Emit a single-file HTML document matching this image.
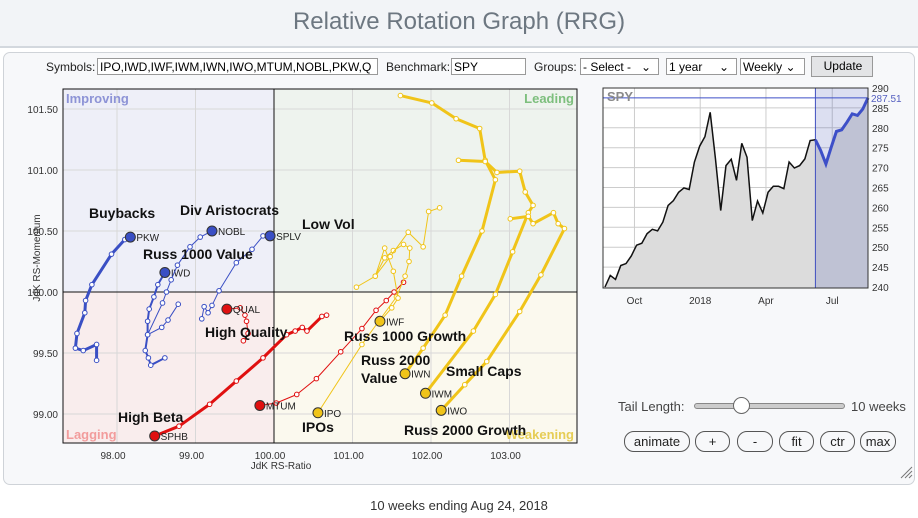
<!DOCTYPE html>
<html><head><meta charset="utf-8">
<style>
body{margin:0;width:918px;height:518px;overflow:hidden;background:#fff;font-family:"Liberation Sans",sans-serif;position:relative}
.hdr{position:absolute;left:0;top:0;width:918px;height:46px;background:#f2f4f7;border-bottom:2px solid #d3d8de}
.title{position:absolute;left:0;width:918px;top:8px;text-align:center;font-size:24px;color:#6d7781}
.panel{position:absolute;left:3px;top:52px;width:910px;height:431px;border:1px solid #cfd3d8;border-radius:7px;background:#f7f8fa}
.ctl{position:absolute;font-size:12px;color:#222}
.inp{position:absolute;height:17px;border:1px solid #999;background:#fff;font-size:12px;line-height:17px;padding-left:2px;box-sizing:border-box;white-space:nowrap;overflow:hidden}
.btn{position:absolute;border:1px solid #555;border-radius:10px;height:21px;box-sizing:border-box;text-align:center;font-size:13px;line-height:19px;color:#222;background:#f7f8fa}
svg{position:absolute;left:0;top:0}
.foot{position:absolute;left:0;width:918px;top:498px;text-align:center;font-size:13px;color:#333}
</style></head><body>
<div class="hdr"></div>
<div class="title">Relative Rotation Graph (RRG)</div>
<div class="panel"></div>
<div class="ctl" style="left:46px;top:60px">Symbols:</div>
<div class="inp" style="left:97px;top:58px;width:281px">IPO,IWD,IWF,IWM,IWN,IWO,MTUM,NOBL,PKW,Q</div>
<div class="ctl" style="left:386px;top:60px">Benchmark:</div>
<div class="inp" style="left:451px;top:58px;width:75px">SPY</div>
<div class="ctl" style="left:534px;top:60px">Groups:</div>
<div class="inp" style="left:580px;top:58px;width:79px">- Select -&nbsp;&nbsp;&nbsp;⌄</div>
<div class="inp" style="left:666px;top:58px;width:71px">1 year&nbsp;&nbsp;&nbsp;&nbsp;&nbsp;⌄</div>
<div class="inp" style="left:740px;top:58px;width:65px">Weekly ⌄</div>
<div class="inp" style="left:811px;top:56px;width:62px;height:21px;background:#e3e4e6;text-align:center;line-height:19px">Update</div>

<svg id="chart" width="918" height="518"></svg>

<div class="ctl" style="left:618px;top:399px;font-size:13px;color:#444">Tail Length:</div>
<div style="position:absolute;left:694px;top:403px;width:149px;height:4px;border:1px solid #888;border-radius:3px;background:#ccc"></div>
<div style="position:absolute;left:733px;top:397px;width:15px;height:15px;border:1px solid #666;border-radius:50%;background:#fff"></div>
<div class="ctl" style="left:851px;top:399px;font-size:13px;color:#444">10 weeks</div>
<div class="btn" style="left:624px;top:431px;width:66px">animate</div>
<div class="btn" style="left:695px;top:431px;width:35px">+</div>
<div class="btn" style="left:737px;top:431px;width:36px">-</div>
<div class="btn" style="left:779px;top:431px;width:35px">fit</div>
<div class="btn" style="left:820px;top:431px;width:35px">ctr</div>
<div class="btn" style="left:860px;top:431px;width:36px">max</div>
<div class="foot">10 weeks ending Aug 24, 2018</div>

<script>
// ---- RRG data ----
const xTicks=[98,99,100,101,102,103];
const yTicks=[99.0,99.5,100.0,100.5,101.0,101.5];
const symbols=["PKW","IWD","NOBL","SPLV","QUAL","SPHB","MTUM","IPO","IWF","IWN","IWM","IWO"];
const ratioPKW=[97.74,97.74,97.57,97.47,97.49,97.59,97.60,97.68,97.93,98.10,98.17];
const momPKW=[99.44,99.57,99.52,99.54,99.66,99.83,99.93,100.06,100.31,100.43,100.45];
const ratioIWD=[98.61,98.43,98.40,98.36,98.39,98.39,98.41,98.47,98.52,98.61];
const momIWD=[99.46,99.40,99.46,99.52,99.65,99.76,99.86,99.96,100.06,100.16];
const ratioNOBL=[98.78,98.65,98.57,98.39,98.58,98.63,98.69,98.77,98.93,99.06,99.21];
const momNOBL=[99.90,99.77,99.71,99.65,99.91,100.00,100.10,100.22,100.37,100.45,100.50];
const ratioSPLV=[99.08,99.11,99.16,99.21,99.30,99.52,99.72,99.86,99.95];
const momSPLV=[99.78,99.88,99.83,99.89,100.01,100.24,100.35,100.46,100.46];
const ratioQUAL=[99.61,99.67,99.65,99.63,99.57,99.40];
const momQUAL=[99.60,99.66,99.76,99.81,99.87,99.86];
const ratioSPHB=[100.67,100.61,100.42,100.36,100.27,100.16,99.86,99.52,99.18,98.79,98.48];
const momSPHB=[99.81,99.80,99.68,99.71,99.68,99.65,99.46,99.27,99.08,98.90,98.82];
const ratioMTUM=[101.65,101.53,101.43,101.30,101.12,100.85,100.54,100.29,100.03,99.82];
const momMTUM=[100.08,100.00,99.93,99.85,99.70,99.51,99.29,99.16,99.09,99.07];
const ratioIPO=[101.05,101.29,101.41,101.52,101.65,101.73,101.72,101.67,101.56,101.12,100.56];
const momIPO=[100.04,100.13,100.28,100.34,100.39,100.36,100.25,100.13,99.96,99.57,99.01];
const ratioIWF=[102.11,101.97,101.90,101.71,101.48,101.29,101.41,101.52,101.58,101.50,101.35];
const momIWF=[100.69,100.66,100.37,100.49,100.29,100.13,100.36,100.17,99.95,99.87,99.76];
const ratioIWN=[101.61,102.01,102.32,102.62,102.69,102.82,102.65,102.39,102.18,101.90,101.67];
const momIWN=[101.61,101.55,101.42,101.34,101.08,100.92,100.50,100.13,99.81,99.54,99.33];
const ratioIWM=[102.35,102.69,102.84,103.13,103.20,103.30,103.24,103.04,102.82,102.54,101.93];
const momIWM=[101.08,101.07,100.98,100.99,100.82,100.71,100.65,100.33,99.98,99.68,99.17];
const ratioIWO=[103.01,103.24,103.30,103.56,103.62,103.70,103.40,103.13,102.71,102.43,102.13];
const momIWO=[100.60,100.62,100.56,100.65,100.56,100.52,100.14,99.84,99.43,99.24,99.03];
// ---- SPY data ----
const spyPrices=[240.0,242.9,241.9,245.4,245.9,247.8,250.5,251.0,253.4,254.5,254.1,256.3,260.5,261.7,263.8,264.9,264.5,271.4,275.4,277.8,283.9,272.2,259.2,270.5,272.1,266.8,276.1,272.6,256.7,261.6,258.6,263.8,265.3,265.3,264.7,271.4,269.9,270.5,272.2,276.8,277.0,274.3,270.9,275.1,279.1,279.5,281.4,283.5,283.1,284.7,287.51];
const spyTicks=[240,245,250,255,260,265,270,275,280,285,290];
const spyDateLabels=["Oct","2018","Apr","Jul"];
const spyDateIdx=[5.6,18.1,30.6,43.2];

const NS="http://www.w3.org/2000/svg";
const svg=document.getElementById('chart');
function el(tag,attrs,parent){const e=document.createElementNS(NS,tag);for(const k in attrs)e.setAttribute(k,attrs[k]);(parent||svg).appendChild(e);return e;}
function txt(x,y,s,attrs){const t=el('text',Object.assign({x:x,y:y,'font-family':'Liberation Sans, sans-serif'},attrs||{}));t.textContent=s;return t;}

// main plot
const L=63,R=577,T=89,B=443;
const X=v=>274+(v-100)*78.5;
const Y=v=>292-(v-100)*122;
const q=[[L,T,X(100)-L,Y(100)-T,'#eeeff8','quadrant-improving'],[X(100),T,R-X(100),Y(100)-T,'#eef3ee','quadrant-leading'],[L,Y(100),X(100)-L,B-Y(100),'#f9eded','quadrant-lagging'],[X(100),Y(100),R-X(100),B-Y(100),'#fbf9ee','quadrant-weakening']];
q.forEach(a=>{const r=el('rect',{x:a[0],y:a[1],width:a[2],height:a[3],fill:a[4]});

});
xTicks.forEach(v=>{const l=el('line',{x1:X(v),x2:X(v),y1:T,y2:B,stroke:'#d8d8d8','stroke-width':1});


const t=txt(X(v)-4,459,v.toFixed(2),{'font-size':10,'text-anchor':'middle',fill:'#333'});

});
yTicks.forEach(v=>{const l=el('line',{x1:L,x2:R,y1:Y(v),y2:Y(v),stroke:'#d8d8d8','stroke-width':1});


const t=txt(58,Y(v)+4,v.toFixed(2),{'font-size':10,'text-anchor':'end',fill:'#333'});

});
el('line',{x1:X(100),x2:X(100),y1:T,y2:B,stroke:'#111','stroke-width':1});
el('line',{x1:L,x2:R,y1:Y(100),y2:Y(100),stroke:'#111','stroke-width':1});
const frame=el('rect',{x:L,y:T,width:R-L,height:B-T,fill:'none',stroke:'#111','stroke-width':1});


let t1=txt(281,469,'JdK RS-Ratio',{'font-size':10,'text-anchor':'middle',fill:'#333'});


let t2=txt(0,0,'JdK RS-Momentum',{'font-size':10,'text-anchor':'middle',fill:'#333',transform:'translate(40,258) rotate(-90)'});


[['Improving',66,103,'start','#8d93d6'],['Leading',574,103,'end','#7dbf7d'],['Lagging',66,439,'start','#f29c9c'],['Weakening',574,439,'end','#e6cd55']].forEach(a=>{
const t=txt(a[1],a[2],a[0],{'font-size':13,'font-weight':'bold','text-anchor':a[3],fill:a[4]});

});

const series=[
[ratioSPHB,momSPHB,'#e01010',3,'SPHB'],[ratioMTUM,momMTUM,'#e01010',1,'MTUM'],[ratioQUAL,momQUAL,'#e01010',1,'QUAL'],
[ratioPKW,momPKW,'#3a4fc4',3,'PKW'],[ratioIWD,momIWD,'#3a4fc4',2,'IWD'],[ratioNOBL,momNOBL,'#3a4fc4',1,'NOBL'],[ratioSPLV,momSPLV,'#3a4fc4',1,'SPLV'],
[ratioIPO,momIPO,'#f0c419',1,'IPO'],[ratioIWF,momIWF,'#f0c419',1,'IWF'],[ratioIWN,momIWN,'#f0c419',3,'IWN'],[ratioIWM,momIWM,'#f0c419',3,'IWM'],[ratioIWO,momIWO,'#f0c419',3,'IWO']];
series.forEach(s=>{
const g=el('g',{});


const pts=s[0].map((v,i)=>X(v)+','+Y(s[1][i])).join(' ');
el('polyline',{points:pts,fill:'none',stroke:s[2],'stroke-width':s[3],'stroke-linejoin':'round','stroke-linecap':'round'},g);
const n=s[0].length;
for(let i=0;i<n-1;i++){const c=el('circle',{cx:X(s[0][i]),cy:Y(s[1][i]),r:2.3,fill:'#fff',stroke:s[2],'stroke-width':1},g);

}
const h=el('circle',{cx:X(s[0][n-1]),cy:Y(s[1][n-1]),r:5,fill:s[2],stroke:'#333','stroke-width':1},g);


const lb=txt(X(s[0][n-1])+6,Y(s[1][n-1])+4,s[4],{'font-size':10,fill:'#222'},g);


});
[['Buybacks',89,218],['Div Aristocrats',180,215],['Low Vol',302,229],['Russ 1000 Value',143,259],['High Quality',205,337],['Russ 1000 Growth',344,341],['Russ 2000',361,365],['Value',361,383],['Small Caps',446,376],['High Beta',118,422],['IPOs',302,432],['Russ 2000 Growth',404,435]].forEach(a=>{
const t=txt(a[1],a[2],a[0],{'font-size':14,'font-weight':'bold',fill:'#111'});

});

// SPY mini chart
const ML=603,MR=868,MT=88,MB=288;
const SX=i=>605+i*(MR-605)/(spyPrices.length-1);
const SY=v=>MT+(290-v)*(MB-MT-1)/50;
el('rect',{x:ML,y:MT,width:MR-ML,height:MB-MT,fill:'#fff'});
const hlStart=40;
spyTicks.forEach(v=>{el('line',{x1:ML,x2:MR,y1:SY(v),y2:SY(v),stroke:'#ccc'});
const t=txt(872,SY(v)+4,String(v),{'font-size':10,fill:'#333'});

});
spyDateIdx.forEach((v,i)=>{el('line',{x1:SX(v),x2:SX(v),y1:MT,y2:MB,stroke:'#ccc'});
const t=txt(SX(v),304,spyDateLabels[i],{'font-size':10,'text-anchor':'middle',fill:'#333'});

});
let area='M'+SX(0)+','+MB+' '+spyPrices.map((v,i)=>'L'+SX(i)+','+SY(v)).join(' ')+' L'+SX(spyPrices.length-1)+','+MB+'Z';
const ar=el('path',{d:area,fill:'#dcdcdc'});


el('rect',{x:SX(hlStart),y:MT,width:MR-SX(hlStart),height:MB-MT,fill:'#3f4fb0','fill-opacity':0.18});
el('line',{x1:SX(hlStart),x2:SX(hlStart),y1:MT,y2:MB,stroke:'#3f4fc0'});
const pl=el('polyline',{points:spyPrices.slice(0,hlStart+1).map((v,i)=>SX(i)+','+SY(v)).join(' '),fill:'none',stroke:'#111','stroke-width':1.5});


const pb=el('polyline',{points:spyPrices.slice(hlStart).map((v,i)=>SX(i+hlStart)+','+SY(v)).join(' '),fill:'none',stroke:'#3d4fc8','stroke-width':3});


const last=spyPrices[spyPrices.length-1];
el('line',{x1:ML,x2:MR,y1:SY(last),y2:SY(last),stroke:'#3d4fc8'});
const lv=txt(871,SY(last)+4,last.toFixed(2),{'font-size':10,fill:'#5560c0'});


el('rect',{x:ML,y:MT,width:MR-ML,height:MB-MT,fill:'none',stroke:'#333'});
const sl=txt(607,101,'SPY',{'font-size':13,'font-weight':'bold',fill:'#8a8a8a'});


// resize grip
el('path',{d:'M901,478 L912,467 M905,478 L912,471 M909,478 L912,475',stroke:'#777','stroke-width':1});
</script>
</body></html>
